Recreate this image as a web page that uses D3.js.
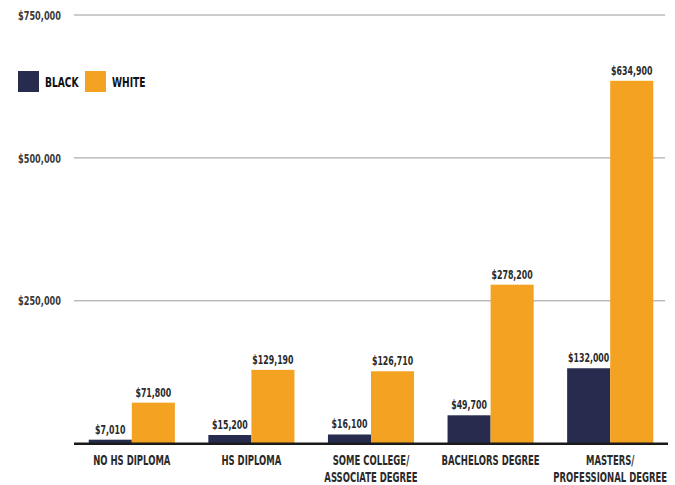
<!doctype html>
<html>
<head>
<meta charset="utf-8">
<style>
    body { margin: 0; background: #fff; }
    text { font-family: "DejaVu Sans", sans-serif; font-stretch: condensed; font-weight: bold; }
</style>
<script src="https://d3js.org/d3.v7.min.js"></script>
</head>
<body>
<svg width="675" height="485"></svg>
<script>
    // data
    var categories = [["NO HS DIPLOMA"], ["HS DIPLOMA"], ["SOME COLLEGE/", "ASSOCIATE DEGREE"],
                      ["BACHELORS DEGREE"], ["MASTERS/", "PROFESSIONAL DEGREE"]];
    var seriesNames = ["BLACK", "WHITE"];
    var black = [7010, 15200, 16100, 49700, 132000];
    var white = [71800, 129190, 126710, 278200, 634900];
    var ticks = [250000, 500000, 750000];

    var colors = ["#272c4f", "#f3a221"];
    var sx = 0.7; // horizontal squeeze to mimic the condensed display face

    var svg = d3.select("svg");

    function place(x, y) { return "translate(" + x + "," + y + ") scale(" + sx + ",1)"; }

    var data = categories.map(function(c, i) {
        return { key: i, label: c, values: [black[i], white[i]] };
    });

    var x0 = d3.scaleBand().domain(d3.range(categories.length))
        .range([72, 670]).paddingInner(0.28).paddingOuter(0.14);
    var x1 = d3.scaleBand().domain([0, 1]).range([0, x0.bandwidth()]);
    var y = d3.scaleLinear().domain([0, 750000]).range([443.7, 15]);

    var fmt = d3.format("$,");

    // gridlines + tick labels
    var grid = svg.append("g");
    grid.selectAll("line").data(ticks).enter().append("line")
        .attr("x1", 74).attr("x2", 665)
        .attr("y1", function(d) { return y(d); })
        .attr("y2", function(d) { return y(d); })
        .attr("stroke", "#9a9a9a").attr("stroke-width", 1);
    grid.selectAll("g").data(ticks).enter().append("g")
        .attr("transform", function(d) { return place(18, y(d)); })
        .append("text")
        .attr("dy", "0.36em")
        .attr("font-size", "13px")
        .attr("fill", "#3a3a3a")
        .text(function(d) { return fmt(d); });

    // bars
    var groups = svg.selectAll(".grp").data(data).enter().append("g")
        .attr("class", "grp")
        .attr("transform", function(d) { return "translate(" + x0(d.key) + ",0)"; });

    groups.selectAll("rect").data(function(d) { return d.values; }).enter().append("rect")
        .attr("x", function(d, i) { return x1(i); })
        .attr("y", function(d) { return y(d); })
        .attr("width", x1.bandwidth())
        .attr("height", function(d) { return y(0) - y(d); })
        .attr("fill", function(d, i) { return colors[i]; });

    groups.selectAll(".val").data(function(d) { return d.values; }).enter().append("g")
        .attr("class", "val")
        .attr("transform", function(d, i) { return place(x1(i) + x1.bandwidth() / 2, y(d) - 6); })
        .append("text")
        .attr("text-anchor", "middle")
        .attr("font-size", "12.5px")
        .attr("fill", "#2a2a2a")
        .text(function(d) { return fmt(d); });

    // baseline
    svg.append("line")
        .attr("x1", 74).attr("x2", 668)
        .attr("y1", y(0)).attr("y2", y(0))
        .attr("stroke", "#1a1a1a").attr("stroke-width", 2.5);

    // category labels
    groups.append("g")
        .attr("transform", place(x0.bandwidth() / 2, 465))
        .append("text")
        .attr("text-anchor", "middle")
        .attr("font-size", "13.5px")
        .attr("fill", "#2a2a2a")
        .selectAll("tspan").data(function(d) { return d.label; }).enter().append("tspan")
        .attr("x", 0)
        .attr("dy", function(d, i) { return i ? 17 : 0; })
        .text(function(d) { return d; });

    // legend
    var legend = svg.append("g").attr("transform", "translate(18,71)");
    var item = legend.selectAll("g").data(seriesNames).enter().append("g")
        .attr("transform", function(d, i) { return "translate(" + (i * 67) + ",0)"; });
    item.append("rect").attr("width", 21).attr("height", 21)
        .attr("fill", function(d, i) { return colors[i]; });
    item.append("g").attr("transform", place(27, 16))
        .append("text")
        .attr("font-size", "14.5px").attr("fill", "#111")
        .text(function(d) { return d; });
</script>
</body>
</html>
